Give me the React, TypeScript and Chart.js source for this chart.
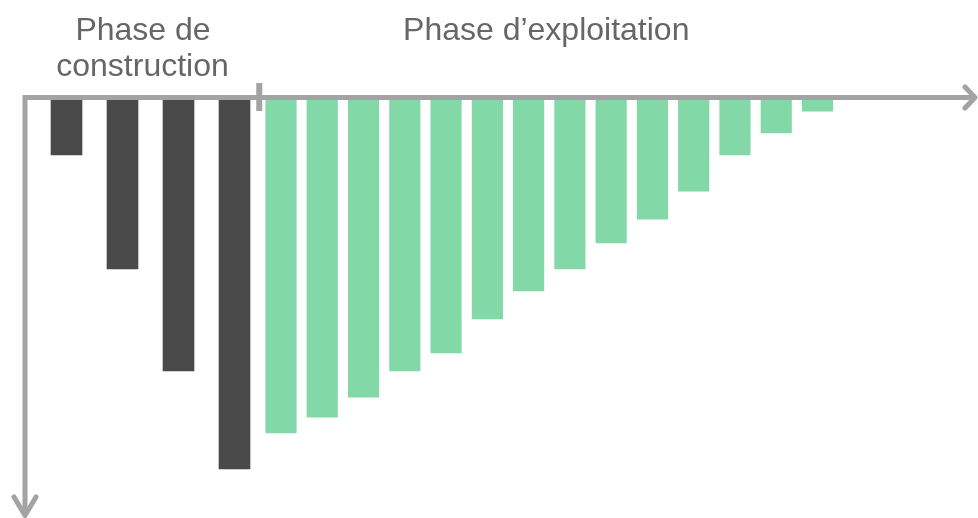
import React, { useEffect, useRef } from "react";
import { Chart, registerables } from "chart.js";

Chart.register(...registerables);

// Data (arbitrary units, bars hang below the time axis)
const constructionLabels = ["C1", "C2", "C3", "C4"];
const constructionValues = [16.4, 48.9, 78.0, 106.0];
const exploitationLabels = [
  "E1", "E2", "E3", "E4", "E5", "E6", "E7", "E8", "E9", "E10", "E11", "E12", "E13", "E14",
];
const exploitationValues = [95.7, 91.2, 85.5, 78.0, 72.9, 63.2, 55.2, 48.9, 41.5, 34.7, 26.7, 16.4, 10.1, 3.9];
const phaseLabels = [["Phase de", "construction"], ["Phase d\u2019exploitation"]];

const DARK = "#4a4a4a";
const GREEN = "#83d8a8";
const AXIS = "#a3a3a3";
const TEXT = "#666666";

// layout helpers
const W = 978;
const H = 518;
const PAD = { left: 25, right: 3, top: 97.5, bottom: 0 };
const AREA_W = W - PAD.left - PAD.right;
const constSlot = 56;
const constFirst = 66.5;
const explSlot = 41.27;
const explFirst = 281;

const decorPlugin = {
  id: "decor",
  afterDatasetsDraw(chart: any) {
    const { ctx, chartArea } = chart;
    const { left, top, right, bottom } = chartArea;
    const xc = chart.scales.xc;
    const xe = chart.scales.xe;
    ctx.save();
    ctx.strokeStyle = AXIS;
    ctx.lineWidth = 5;
    ctx.lineCap = "butt";
    ctx.beginPath();
    ctx.moveTo(left - 2.5, top);
    ctx.lineTo(right - 1, top);
    ctx.moveTo(left, top - 2.5);
    ctx.lineTo(left, bottom - 3);
    ctx.stroke();

    ctx.lineCap = "round";
    ctx.lineJoin = "round";
    ctx.beginPath();
    ctx.moveTo(right - 10, top - 10.5);
    ctx.lineTo(right, top);
    ctx.lineTo(right - 10, top + 10.5);
    ctx.moveTo(left - 11, bottom - 21);
    ctx.lineTo(left, bottom - 2.5);
    ctx.lineTo(left + 11, bottom - 21);
    ctx.stroke();

    // phase separator tick
    const sepX = (xc.getPixelForValue(constructionValues.length - 1) + xe.getPixelForValue(0)) / 2 + 1.5;
    ctx.lineCap = "butt";
    ctx.lineWidth = 6;
    ctx.beginPath();
    ctx.moveTo(sepX, top - 14.5);
    ctx.lineTo(sepX, top + 13.5);
    ctx.stroke();

    // phase labels
    ctx.fillStyle = TEXT;
    ctx.font = '32px "Liberation Sans", Arial, sans-serif';
    ctx.textAlign = "center";
    ctx.textBaseline = "alphabetic";
    const cMid = (xc.getPixelForValue(0) + xc.getPixelForValue(constructionValues.length - 1)) / 2 + 0.5;
    ctx.fillText(phaseLabels[0][0], cMid - 8, 40);
    ctx.fillText(phaseLabels[0][1], cMid - 8.5, 76);
    const eMid = (xe.getPixelForValue(0) + xe.getPixelForValue(exploitationValues.length - 1)) / 2;
    ctx.fillText(phaseLabels[1][0], eMid - 3, 40);
    ctx.restore();
  },
};

export default function App() {
  const ref = useRef<HTMLCanvasElement | null>(null);
  useEffect(() => {
    document.body.style.margin = "0";
    if (!ref.current) return;
    const cMin = -(constFirst - PAD.left) / constSlot;
    const cMax = cMin + AREA_W / constSlot;
    const eMin = -(explFirst - PAD.left) / explSlot;
    const eMax = eMin + AREA_W / explSlot;
    const chart = new Chart(ref.current, {
      type: "bar",
      data: {
        datasets: [
          {
            label: "Construction",
            data: constructionValues.map((v, i) => ({ x: i, y: v, label: constructionLabels[i] })) as any,
            backgroundColor: DARK,
            xAxisID: "xc",
            yAxisID: "y",
            barThickness: 31,
            grouped: false,
          },
          {
            label: "Exploitation",
            data: exploitationValues.map((v, i) => ({ x: i, y: v, label: exploitationLabels[i] })) as any,
            backgroundColor: GREEN,
            xAxisID: "xe",
            yAxisID: "y",
            barThickness: 30.5,
            grouped: false,
          },
        ],
      },
      options: {
        animation: false,
        responsive: false,
        layout: { padding: PAD },
        plugins: { legend: { display: false }, tooltip: { enabled: false }, title: { display: false } },
        scales: {
          xc: { type: "linear", display: false, min: cMin, max: cMax, offset: false },
          xe: { type: "linear", display: false, min: eMin, max: eMax, offset: false },
          y: { type: "linear", display: false, reverse: true, min: 0, max: 120 },
        },
      },
      plugins: [decorPlugin],
    });
    return () => chart.destroy();
  }, []);
  return (
    <div style={{ width: W, height: H, background: "#fff" }}>
      <canvas ref={ref} width={W} height={H} style={{ display: "block" }} />
    </div>
  );
}
